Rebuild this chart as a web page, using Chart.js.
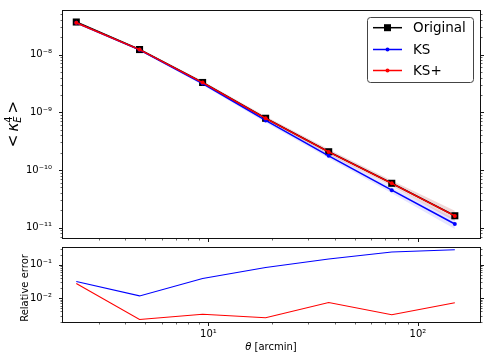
<!DOCTYPE html>
<html><head><meta charset="utf-8">
<script src="https://cdn.jsdelivr.net/npm/chart.js@4.4.1/dist/chart.umd.min.js"></script>
<style>
html,body{margin:0;padding:0;background:#fff;}
#wrap{position:relative;width:491px;height:360px;overflow:hidden;font-family:"DejaVu Sans",sans-serif;color:#000;}
canvas{position:absolute;left:0;}
#c1{top:0;}
#c2{top:240px;}
.t{position:absolute;white-space:nowrap;line-height:1;}
.rot{transform:translate(-50%,-50%) rotate(-90deg);}
.ctr{transform:translate(-50%,-50%);}
.ss{display:inline-block;vertical-align:-0.32em;font-size:0.66em;line-height:0.95;text-align:left;}
.ss span{display:block;}
</style></head><body>
<div id="wrap">
<canvas id="c1" width="491" height="250"></canvas>
<canvas id="c2" width="491" height="120"></canvas>
<div class="t rot" style="left:13px;top:124px;font-size:15px">&lt;&thinsp;<i>κ</i><span class="ss"><span>4</span><span><i>E</i></span></span>&thinsp;&gt;</div>
<div class="t rot" style="left:25px;top:288px;font-size:10px">Relative error</div>
<div class="t ctr" style="left:271px;top:347px;font-size:10px"><i>θ</i> [arcmin]</div>
</div>
<script>
// ---- data ----
const theta = [2.34, 4.69, 9.38, 18.75, 37.5, 75, 150];
const original = [3.66e-8, 1.22e-8, 3.28e-9, 7.87e-10, 2.07e-10, 5.88e-11, 1.61e-11];
const ks = [3.54e-8, 1.205e-8, 3.15e-9, 7.22e-10, 1.76e-10, 4.47e-11, 1.16e-11];
const ksLow = [3.40e-8, 1.159e-8, 2.97e-9, 6.66e-10, 1.59e-10, 3.97e-11, 9.5e-12];
const ksHigh = [3.68e-8, 1.253e-8, 3.35e-9, 7.83e-10, 1.95e-10, 5.04e-11, 1.42e-11];
const ksPlus = [3.56e-8, 1.217e-8, 3.27e-9, 7.85e-10, 2.055e-10, 5.86e-11, 1.60e-11];
const ksPlusLow = [3.42e-8, 1.17e-8, 3.08e-9, 7.24e-10, 1.85e-10, 5.2e-11, 1.31e-11];
const ksPlusHigh = [3.70e-8, 1.266e-8, 3.47e-9, 8.51e-10, 2.28e-10, 6.6e-11, 1.96e-11];
const relErrKS = [0.0316, 0.0117, 0.039, 0.083, 0.148, 0.24, 0.28];
const relErrKSPlus = [0.0275, 0.0023, 0.0033, 0.0026, 0.0074, 0.0032, 0.0073];
const seriesNames = ['Original', 'KS', 'KS+'];
const xMajorValues = [10, 100];
const xTickLabels = ['10¹', '10²'];
const yTopMajorValues = [1e-11, 1e-10, 1e-9, 1e-8];
const yTopTickLabels = ['10⁻¹¹', '10⁻¹⁰', '10⁻⁹', '10⁻⁸'];
const yBotMajorValues = [1e-2, 1e-1];
const yBotTickLabels = ['10⁻²', '10⁻¹'];

const FONT = 'DejaVu Sans';
const pts = (ys) => theta.map((x, i) => ({x, y: ys[i]}));

function logTicks(min, max) {
  const t = [];
  for (let e = Math.floor(Math.log10(min)); e <= Math.ceil(Math.log10(max)); e++) {
    for (let m = 1; m <= 9; m++) {
      const v = m * Math.pow(10, e);
      if (v >= min * 1.000001 && v <= max / 1.000001) t.push({value: v, major: m === 1});
    }
  }
  return t;
}
function labelFrom(values, labels) {
  return (v) => {
    const i = values.findIndex(m => Math.abs(Math.log10(v) - Math.log10(m)) < 1e-6);
    return i >= 0 ? labels[i] : '';
  };
}

const axesDecor = {
  id: 'axesDecor',
  afterDraw(chart) {
    const {ctx, chartArea: a} = chart;
    const L = Math.round(a.left) + 0.5, R = Math.round(a.right) - 0.5;
    const T = Math.round(a.top) + 0.5, B = Math.round(a.bottom) - 0.5;
    ctx.save();
    ctx.strokeStyle = '#000';
    const seg = (x1, y1, x2, y2) => { ctx.beginPath(); ctx.moveTo(x1, y1); ctx.lineTo(x2, y2); ctx.stroke(); };
    const ys = chart.scales.y, xs = chart.scales.x;
    ys.ticks.forEach(t => {
      const p = Math.round(ys.getPixelForValue(t.value)) + 0.5;
      const len = t.major ? 3.5 : 2;
      ctx.lineWidth = t.major ? 0.9 : 0.6;
      seg(L - len, p, L, p);
      seg(R, p, R + len, p);
    });
    xs.ticks.forEach(t => {
      const p = Math.round(xs.getPixelForValue(t.value)) + 0.5;
      const len = t.major ? 3.5 : 2;
      ctx.lineWidth = t.major ? 0.9 : 0.6;
      seg(p, B, p, B + len);
    });
    ctx.lineWidth = 1;
    ctx.strokeStyle = '#111';
    ctx.strokeRect(L, T, R - L, B - T);
    ctx.restore();
  }
};

const legendBox = {
  id: 'legendBox',
  afterDraw(chart) {
    const ctx = chart.ctx;
    const x0 = 367.5, y0 = 17.5, w = 106, h = 65, r = 3;
    ctx.save();
    ctx.beginPath();
    ctx.moveTo(x0 + r, y0); ctx.lineTo(x0 + w - r, y0); ctx.arcTo(x0 + w, y0, x0 + w, y0 + r, r);
    ctx.lineTo(x0 + w, y0 + h - r); ctx.arcTo(x0 + w, y0 + h, x0 + w - r, y0 + h, r);
    ctx.lineTo(x0 + r, y0 + h); ctx.arcTo(x0, y0 + h, x0, y0 + h - r, r);
    ctx.lineTo(x0, y0 + r); ctx.arcTo(x0, y0, x0 + r, y0, r);
    ctx.closePath();
    ctx.fillStyle = 'rgba(255,255,255,0.85)';
    ctx.fill();
    ctx.strokeStyle = '#444';
    ctx.lineWidth = 1;
    ctx.stroke();
    const items = [
      {label: seriesNames[0], color: '#000000', square: true},
      {label: seriesNames[1], color: '#0000ff', square: false},
      {label: seriesNames[2], color: '#ff0000', square: false}
    ];
    const rows = [27.7, 49.5, 70.5];
    items.forEach((it, i) => {
      const y = rows[i];
      ctx.strokeStyle = it.color; ctx.lineWidth = 1.5;
      ctx.beginPath(); ctx.moveTo(373, y); ctx.lineTo(402, y); ctx.stroke();
      ctx.fillStyle = it.color;
      if (it.square) { ctx.fillRect(387.5 - 3.5, y - 3.5, 7, 7); }
      else { ctx.beginPath(); ctx.arc(387.5, y, 2, 0, Math.PI * 2); ctx.fill(); }
      ctx.fillStyle = '#000';
      ctx.font = '13.5px "' + FONT + '"';
      ctx.textBaseline = 'middle';
      ctx.textAlign = 'left';
      ctx.fillText(it.label, 413, y + 0.5);
    });
    ctx.restore();
  }
};

function xScale(showLabels, height) {
  return {
    type: 'logarithmic', min: 2, max: 200,
    afterBuildTicks: s => { s.ticks = logTicks(s.min, s.max); },
    afterFit: s => { s.height = height; s.paddingLeft = 0; s.paddingRight = 0; },
    grid: {display: false, drawTicks: false},
    border: {display: false},
    ticks: {display: showLabels, autoSkip: false, maxRotation: 0, padding: 5, color: '#000',
      font: {family: FONT, size: 10}, callback: labelFrom(xMajorValues, xTickLabels)}
  };
}
function yScale(min, max, values, labels) {
  return {
    type: 'logarithmic', min, max,
    afterBuildTicks: s => { s.ticks = logTicks(s.min, s.max); },
    afterFit: s => { s.width = 62; s.paddingTop = 0; s.paddingBottom = 0; },
    grid: {display: false, drawTicks: false},
    border: {display: false},
    ticks: {autoSkip: false, padding: 10, color: '#000',
      font: {family: FONT, size: 10}, callback: labelFrom(values, labels)}
  };
}

const bandDs = (data, color, fill, order) => ({
  data: pts(data), borderWidth: 0, pointRadius: 0, backgroundColor: color, fill, order, showLine: true, borderColor: 'rgba(0,0,0,0)'
});

new Chart(document.getElementById('c1'), {
  type: 'line',
  data: {
    datasets: [
      {label: seriesNames[2], data: pts(ksPlus), borderColor: '#ff0000', backgroundColor: '#ff0000', borderWidth: 1.5,
        pointRadius: 2, pointBorderWidth: 0, fill: false, order: 0},
      {label: seriesNames[1], data: pts(ks), borderColor: '#0000ff', backgroundColor: '#0000ff', borderWidth: 1.5,
        pointRadius: 2, pointBorderWidth: 0, fill: false, order: 1},
      {label: seriesNames[0], data: pts(original), borderColor: '#000000', backgroundColor: '#000000', borderWidth: 1.5,
        pointStyle: 'rect', pointRadius: 5, pointBorderWidth: 0, fill: false, order: 2},
      bandDs(ksPlusLow, 'rgba(0,0,0,0)', false, 5),
      bandDs(ksPlusHigh, 'rgba(200,110,110,0.28)', 3, 4),
      bandDs(ksLow, 'rgba(0,0,0,0)', false, 7),
      bandDs(ksHigh, 'rgba(80,80,255,0.15)', 5, 6)
    ]
  },
  options: {
    responsive: false, animation: false, devicePixelRatio: 1,
    layout: {padding: {left: 0, right: 10, top: 10, bottom: 0}},
    plugins: {legend: {display: false}, tooltip: {enabled: false}},
    scales: {
      x: xScale(false, 11),
      y: yScale(6.37e-12, 5.91e-8, yTopMajorValues, yTopTickLabels)
    }
  },
  plugins: [axesDecor, legendBox]
});

new Chart(document.getElementById('c2'), {
  type: 'line',
  data: {
    datasets: [
      {label: seriesNames[2], data: pts(relErrKSPlus), borderColor: '#ff0000', borderWidth: 1.1, pointRadius: 0, fill: false},
      {label: seriesNames[1], data: pts(relErrKS), borderColor: '#0000ff', borderWidth: 1.1, pointRadius: 0, fill: false}
    ]
  },
  options: {
    responsive: false, animation: false, devicePixelRatio: 1,
    layout: {padding: {left: 0, right: 10, top: 7, bottom: 0}},
    plugins: {legend: {display: false}, tooltip: {enabled: false}},
    scales: {
      x: xScale(true, 37),
      y: yScale(0.00181, 0.34, yBotMajorValues, yBotTickLabels)
    }
  },
  plugins: [axesDecor]
});
</script>
</body></html>
